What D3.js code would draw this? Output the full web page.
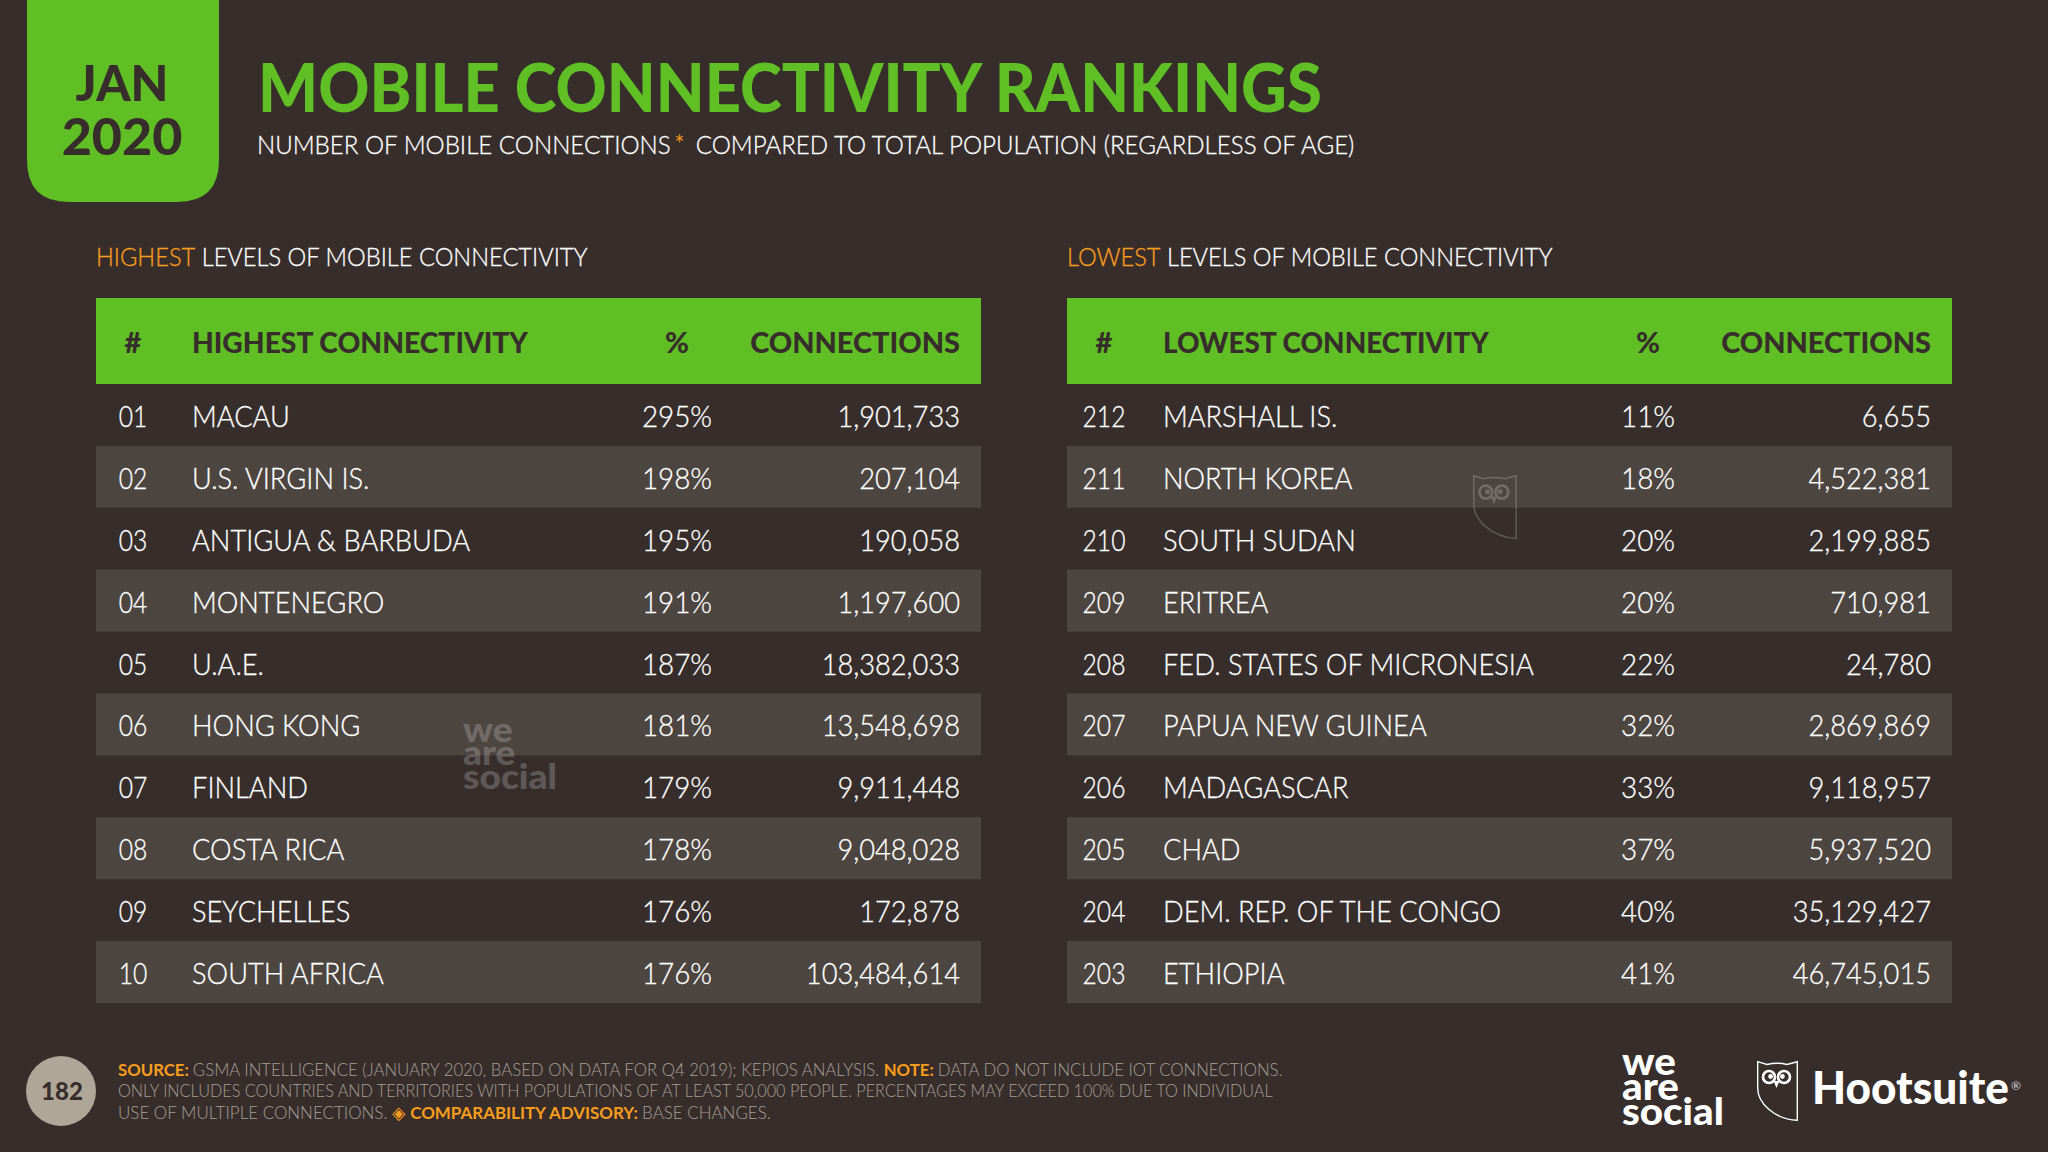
<!DOCTYPE html>
<html>
<head>
<meta charset="utf-8">
<script src="https://cdn.jsdelivr.net/npm/d3@7"></script>
<style>
  html, body { margin: 0; padding: 0; background: #372e2c; }
  svg { display: block; }
  text { font-family: Lato, "Open Sans", sans-serif; }
  .thin { stroke: #fff; stroke-width: 0.3; }
</style>
</head>
<body>
<div id="canvas"></div>
<script>
// table data
var highRanks = [1, 2, 3, 4, 5, 6, 7, 8, 9, 10];
var highCountries = ["MACAU", "U.S. VIRGIN IS.", "ANTIGUA & BARBUDA", "MONTENEGRO", "U.A.E.", "HONG KONG", "FINLAND", "COSTA RICA", "SEYCHELLES", "SOUTH AFRICA"];
var highPercent = [295, 198, 195, 191, 187, 181, 179, 178, 176, 176];
var highConnections = [1901733, 207104, 190058, 1197600, 18382033, 13548698, 9911448, 9048028, 172878, 103484614];

var lowRanks = [212, 211, 210, 209, 208, 207, 206, 205, 204, 203];
var lowCountries = ["MARSHALL IS.", "NORTH KOREA", "SOUTH SUDAN", "ERITREA", "FED. STATES OF MICRONESIA", "PAPUA NEW GUINEA", "MADAGASCAR", "CHAD", "DEM. REP. OF THE CONGO", "ETHIOPIA"];
var lowPercent = [11, 18, 20, 20, 22, 32, 33, 37, 40, 41];
var lowConnections = [6655, 4522381, 2199885, 710981, 24780, 2869869, 9118957, 5937520, 35129427, 46745015];

var columnNames = ["rank", "country", "percent", "connections"];

var width = 2048, height = 1152;
var green = "#5fbf24", dark = "#372e2c", orange = "#f99d1c", grey = "#a79e94";

var svg = d3.select("#canvas").append("svg")
  .attr("width", width)
  .attr("height", height);

svg.append("rect").attr("width", width).attr("height", height).attr("fill", "#372e2c");

// horizontal squeeze around the text's own x, the original font is narrower
function squeeze(sel, k) {
  sel.attr("transform", function() {
    var x = +d3.select(this).attr("x");
    return "translate(" + x + ",0) scale(" + k + ",1) translate(" + (-x) + ",0)";
  });
  return sel;
}
function fit(sel, w) {
  return squeeze(sel, w / sel.node().getComputedTextLength());
}

// date badge
svg.append("path")
  .attr("d", "M27,0H219V160Q219,202 177,202H69Q27,202 27,160Z")
  .attr("fill", green);
svg.append("text").attr("x", 122).attr("y", 101).attr("text-anchor", "middle")
  .attr("font-size", 49).attr("font-weight", 900).attr("fill", dark).text("JAN");
svg.append("text").attr("x", 122).attr("y", 155).attr("text-anchor", "middle")
  .attr("font-size", 52).attr("font-weight", 900).attr("fill", dark).text("2020");

// title
fit(svg.append("text").attr("x", 258).attr("y", 112)
  .attr("font-size", 66).attr("font-weight", 900).attr("fill", green)
  .text("MOBILE CONNECTIVITY RANKINGS"), 1064);

var sub = svg.append("text").attr("class", "thin").attr("x", 257).attr("y", 154)
  .attr("font-size", 26).attr("font-weight", 300).attr("fill", "#fff");
sub.append("tspan").text("NUMBER OF MOBILE CONNECTIONS");
sub.append("tspan").attr("fill", orange).attr("stroke", orange).style("stroke", orange).attr("dx", 4).text("*");
sub.append("tspan").attr("dx", 12).text("COMPARED TO TOTAL POPULATION (REGARDLESS OF AGE)");
fit(sub, 1083);

function drawTable(opts) {
  var left = opts.left;
  var x = d3.scaleOrdinal()
    .domain(columnNames)
    .range([left + 37, left + 96, left + 581, left + 864]);
  var y = d3.scaleBand()
    .domain(d3.range(opts.ranks.length))
    .range([384, 1003]);

  var head = svg.append("text").attr("class", "thin").attr("x", left).attr("y", 266)
    .attr("font-size", 25).attr("font-weight", 300).attr("fill", "#fff");
  head.append("tspan").attr("fill", orange).style("stroke", orange).text(opts.word);
  head.append("tspan").text(" LEVELS OF MOBILE CONNECTIVITY");
  fit(head, opts.headWidth);

  svg.append("rect")
    .attr("x", left).attr("y", 298)
    .attr("width", 885).attr("height", 86)
    .attr("fill", green);

  var g = svg.append("g");
  g.selectAll("rect.stripe")
    .data(d3.range(opts.ranks.length).filter(function(i) { return i % 2 == 1; }))
    .enter()
    .append("rect")
    .attr("class", "stripe")
    .attr("x", left)
    .attr("y", function(i) { return y(i); })
    .attr("width", 885)
    .attr("height", y.bandwidth())
    .attr("fill", "#4d4540");

  var headerY = 353;
  var hdr = svg.append("g").attr("font-size", 29).attr("font-weight", 900).attr("fill", dark);
  hdr.append("text").attr("x", x("rank")).attr("y", headerY).attr("text-anchor", "middle").text("#");
  fit(hdr.append("text").attr("x", x("country")).attr("y", headerY).text(opts.word + " CONNECTIVITY"), opts.titleWidth);
  hdr.append("text").attr("x", x("percent")).attr("y", headerY).attr("text-anchor", "middle").text("%");
  fit(hdr.append("text").attr("x", x("connections")).attr("y", headerY).attr("text-anchor", "end").text("CONNECTIONS"), 210);

  var rows = svg.append("g").attr("class", "thin").attr("font-size", 29).attr("font-weight", 300).attr("fill", "#fff");
  var base = function(i) { return y(i) + y.bandwidth() / 2 + 12; };
  squeeze(rows.selectAll("text.rank").data(opts.ranks).enter().append("text")
    .attr("class", "rank")
    .attr("x", x("rank")).attr("y", function(d, i) { return base(i); })
    .attr("text-anchor", "middle")
    .text(opts.rankFormat), 0.85);
  squeeze(rows.selectAll("text.country").data(opts.countries).enter().append("text")
    .attr("class", "country")
    .attr("x", x("country")).attr("y", function(d, i) { return base(i); })
    .text(function(d) { return d; }), 0.94);
  squeeze(rows.selectAll("text.percent").data(opts.percent).enter().append("text")
    .attr("class", "percent")
    .attr("x", x("percent")).attr("y", function(d, i) { return base(i); })
    .attr("text-anchor", "middle")
    .text(function(d) { return d + "%"; }), 0.96);
  squeeze(rows.selectAll("text.connections").data(opts.connections).enter().append("text")
    .attr("class", "connections")
    .attr("x", x("connections")).attr("y", function(d, i) { return base(i); })
    .attr("text-anchor", "end")
    .text(d3.format(",")), 0.94);
}

drawTable({
  left: 96, word: "HIGHEST", headWidth: 491, titleWidth: 336,
  ranks: highRanks, countries: highCountries, percent: highPercent, connections: highConnections,
  rankFormat: d3.format("02")
});
drawTable({
  left: 1067, word: "LOWEST", headWidth: 485, titleWidth: 326,
  ranks: lowRanks, countries: lowCountries, percent: lowPercent, connections: lowConnections,
  rankFormat: function(d) { return d; }
});

// logos, the three stacked words are one text as in the real mark
function weAreSocial(x, y, w, size, leading, fill, opacity) {
  var t = svg.append("text").attr("x", x).attr("y", y)
    .attr("font-size", size).attr("font-weight", 900)
    .attr("fill", fill).attr("opacity", opacity);
  t.append("tspan").attr("x", x).text("we");
  t.append("tspan").attr("x", x).attr("dy", leading).text("are");
  var last = t.append("tspan").attr("x", x).attr("dy", leading).text("social");
  squeeze(t, w / last.node().getComputedTextLength());
}
function owl(x, y, s, color, opacity) {
  var g = svg.append("g")
    .attr("transform", "translate(" + x + "," + y + ") scale(" + s + ")")
    .attr("opacity", opacity);
  g.append("path")
    .attr("d", "M0.7,0.7L10,3.5Q20,1 30,3.5L40.3,0.7V59.3C17,58 0.7,42 0.7,27Z")
    .attr("fill", "none").attr("stroke", color).attr("stroke-width", 1.4);
  [12, 27].forEach(function(cx) {
    g.append("circle").attr("cx", cx).attr("cy", 16).attr("r", 6)
      .attr("fill", "none").attr("stroke", color).attr("stroke-width", 2.6);
    g.append("circle").attr("cx", cx + (cx < 20 ? 1.6 : -1.6)).attr("cy", 15.5).attr("r", 2.4).attr("fill", color);
  });
  g.append("path").attr("d", "M16.5,20H22.5L19.5,27Z").attr("fill", color);
}

weAreSocial(1622, 1075, 102, 38, 25, "#fff", 1);
owl(1757, 1061, 1, "#fff", 1);
fit(svg.append("text").attr("x", 1812).attr("y", 1104)
  .attr("font-size", 46).attr("font-weight", 900).attr("fill", "#fff").text("Hootsuite"), 197);
svg.append("text").attr("x", 2011).attr("y", 1090)
  .attr("font-size", 12).attr("fill", "#ddd").text("®");

// watermarks
weAreSocial(463, 742, 94, 35, 23.5, "#fff", 0.2);
owl(1473, 475, 1.07, "#fff", 0.2);

// page number
svg.append("ellipse").attr("cx", 61).attr("cy", 1091).attr("rx", 35).attr("ry", 35).attr("fill", "#b0a698");
svg.append("text").attr("x", 62).attr("y", 1100).attr("text-anchor", "middle")
  .attr("font-size", 24).attr("font-weight", 900).attr("fill", dark).text("182");

// footer
var footer = svg.append("g").attr("font-size", 17.5).attr("font-weight", 300).attr("fill", grey);
var line1 = footer.append("text").attr("x", 118).attr("y", 1076);
line1.append("tspan").attr("fill", orange).attr("font-weight", 700).text("SOURCE: ");
line1.append("tspan").text("GSMA INTELLIGENCE (JANUARY 2020, BASED ON DATA FOR Q4 2019); KEPIOS ANALYSIS. ");
line1.append("tspan").attr("fill", orange).attr("font-weight", 700).text("NOTE: ");
line1.append("tspan").text("DATA DO NOT INCLUDE IOT CONNECTIONS.");
fit(line1, 1165);
var line2 = footer.append("text").attr("x", 118).attr("y", 1097)
  .text("ONLY INCLUDES COUNTRIES AND TERRITORIES WITH POPULATIONS OF AT LEAST 50,000 PEOPLE. PERCENTAGES MAY EXCEED 100% DUE TO INDIVIDUAL");
fit(line2, 1155);
var line3 = footer.append("text").attr("x", 118).attr("y", 1119);
line3.append("tspan").text("USE OF MULTIPLE CONNECTIONS. ");
line3.append("tspan").attr("fill", orange).style("font-family", "'DejaVu Sans'").text("◈ ");
line3.append("tspan").attr("fill", orange).attr("font-weight", 700).text("COMPARABILITY ADVISORY: ");
line3.append("tspan").text("BASE CHANGES.");
fit(line3, 654);
</script>
</body>
</html>
